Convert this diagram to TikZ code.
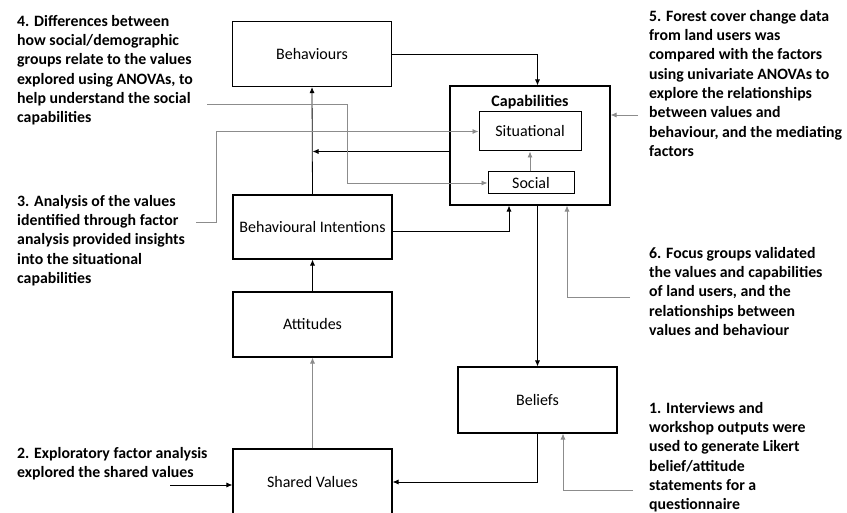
\documentclass[tikz,border=0pt]{standalone}
\usepackage{fontspec}
\setmainfont{Carlito}
\usetikzlibrary{arrows.meta}
\tikzset{
  box/.style={draw, line width=1.1pt, minimum width=159pt, align=center, font=\fontsize{16}{19}\selectfont},
  note/.style={anchor=north west, inner sep=0pt, align=left, font=\bfseries\fontsize{15.8}{19.3}\selectfont},
  conn/.style={-{Latex[length=6pt,width=5pt]}, line width=0.8pt},
  greyconn/.style={conn, draw=black!45},
}

\begin{document}
\begin{tikzpicture}[x=1pt,y=-1pt]
    \useasboundingbox (0,0) rectangle (847,513);
    % boxes
    \node[box, minimum height=65pt] (beh) at (312,54) {Behaviours};
    \node[box, minimum height=64pt] (bint) at (312.5,227) {Behavioural Intentions};
    \node[box, minimum height=65pt] (att) at (312.5,324.5) {Attitudes};
    \node[box, minimum height=66pt] (shv) at (312.5,482) {Shared Values};
    \node[box, minimum width=160pt, minimum height=119pt] (cap) at (530,145.5) {};
    \node[inner sep=0pt, font=\bfseries\fontsize{16}{19}\selectfont] (captitle) at (530,102) {Capabilities};
    \node[box, minimum width=102pt, minimum height=39pt, line width=1pt] (sit) at (530,131.5) {Situational};
    \node[box, minimum width=86pt, minimum height=22pt, inner sep=0pt, line width=1pt] (soc) at (531,183) {Social};
    \node[box, minimum height=66pt] (bel) at (537.5,400) {Beliefs};
    % method notes
    \node[note] (lab4) at (17,15) {4. Differences between\\how social/demographic\\groups relate to the values\\explored using ANOVAs, to\\help understand the social\\capabilities};
    \node[note] (lab3) at (17,195) {3. Analysis of the values\\identified through factor\\analysis provided insights\\into the situational\\capabilities};
    \node[note] (lab2) at (17,447) {2. Exploratory factor analysis\\explored the shared values};
    \node[note] (lab5) at (649,10) {5. Forest cover change data\\from land users was\\compared with the factors\\using univariate ANOVAs to\\explore the relationships\\between values and\\behaviour, and the mediating\\factors};
    \node[note] (lab6) at (649,247) {6. Focus groups validated\\the values and capabilities\\of land users, and the\\relationships between\\values and behaviour};
    \node[note] (lab1) at (649,402) {1. Interviews and\\workshop outputs were\\used to generate Likert\\belief/attitude\\statements for a\\questionnaire};
    % line ends and corners
    \coordinate (a4) at (207,104);
    \coordinate (k4) at (347,183);
    \coordinate (a3) at (196,222);
    \coordinate (k3) at (216,222);
    \coordinate (a5) at (638,115);
    \coordinate (a6) at (630,297);
    \coordinate (k6) at (567,297);
    \coordinate (a1) at (633,490);
    \coordinate (k1) at (563,490);
    \coordinate (a2) at (170,485);
    \coordinate (k8) at (509,231);
    % model links
    \draw[conn] (bint.north) -- (beh.south);
    \draw[conn] (att.north) -- (bint.south);
    \draw[greyconn] (shv.north) -- (att.south);
    \draw[conn] (beh.east) -| (bel.north |- cap.north);
    \draw[conn] (cap.south -| bel.north) -- (bel.north);
    \draw[conn] (bel.south) |- (shv.east);
    \draw[conn] (cap.west |- sit.south) -- (bint.north |- sit.south);
    \draw[conn] (bint.east |- k8) -- (k8) -- (k8 |- cap.south);
    \draw[greyconn] (soc.north -| sit.south) -- (sit.south);
    % method links
    \draw[greyconn] (a4) -| (k4) -- (soc.west);
    \draw[greyconn] (a3) -- (k3) |- (sit.west);
    \draw[greyconn] (a5) -- (cap.east |- a5);
    \draw[greyconn] (a6) -- (k6) -- (k6 |- cap.south);
    \draw[greyconn] (a1) -- (k1) -- (k1 |- bel.south);
    \draw[conn] (a2) -- (shv.west |- a2);
\end{tikzpicture}
\end{document}
